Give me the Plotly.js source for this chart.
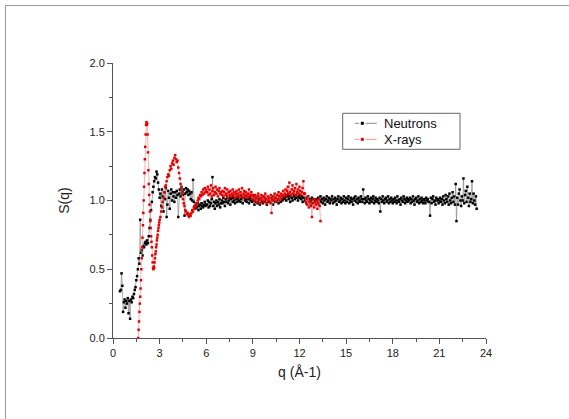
<!DOCTYPE html>
<html>
<head>
<meta charset="utf-8">
<script src="https://cdn.plot.ly/plotly-3.0.1.min.js"></script>
<style>
html,body{margin:0;padding:0;background:#fff;}
#wrap{position:relative;width:569px;height:419px;overflow:hidden;}
#chart{position:absolute;left:0;top:0;width:569px;height:419px;}
#frame{position:absolute;left:5px;top:5px;width:600px;height:500px;border-top:1px solid #999;border-left:1px solid #999;pointer-events:none;}
</style>
</head>
<body>
<div id="wrap"><div id="chart"></div><div id="frame"></div></div>
<script>
// ---- Neutrons ----
const neutronQLow = [0.45,0.50,0.55,0.60,0.65,0.70,0.75,0.80,0.85,0.90,0.95,1.00,1.05,1.10,1.15,1.20,1.25,1.30,1.35,1.40,1.45,1.50,1.55,1.60,1.65,1.70,1.75,1.80,1.85,1.90,1.95,2.00,2.05,2.10,2.15,2.20,2.25,2.30,2.35,2.40,2.45,2.50,2.55,2.60,2.65,2.70,2.75,2.80,2.85,2.90,2.95,3.00];
const neutronSLow = [0.34,0.35,0.47,0.38,0.19,0.26,0.28,0.22,0.27,0.25,0.29,0.18,0.27,0.14,0.28,0.26,0.30,0.29,0.32,0.35,0.37,0.42,0.45,0.50,0.58,0.54,0.86,0.62,0.64,0.60,0.67,0.66,0.69,0.70,0.68,0.71,0.69,0.74,0.80,0.86,0.93,0.99,1.06,1.10,1.14,1.17,1.16,1.21,1.19,1.13,1.08,1.02];
const neutronQMid = [3.05,3.10,3.15,3.20,3.25,3.30,3.35,3.40,3.45,3.50,3.55,3.60,3.65,3.70,3.75,3.80,3.85,3.90,3.95,4.00,4.05,4.10,4.15,4.20,4.25,4.30,4.35,4.40,4.45,4.50,4.55,4.60,4.65,4.70,4.75,4.80,4.85,4.90,4.95,5.00,5.05,5.10,5.15,5.20,5.25,5.30,5.35,5.40,5.45,5.50,5.55,5.60,5.65,5.70,5.75,5.80,5.85,5.90,5.95,6.00];
const neutronSMid = [1.05,0.96,1.08,1.03,0.92,1.06,1.01,1.09,0.88,0.97,1.07,1.02,0.94,1.05,1.08,1.00,1.06,1.03,0.99,1.06,1.02,1.07,1.04,0.88,1.05,1.08,1.03,1.10,1.06,1.04,1.08,0.89,1.05,1.09,1.06,1.08,1.04,1.07,1.05,1.01,1.06,1.00,1.15,0.99,0.96,0.94,0.97,0.95,0.98,0.93,0.96,0.97,0.94,0.98,0.96,0.95,0.97,0.99,0.96,0.97];
const neutronQHigh = [6.05,6.10,6.15,6.20,6.25,6.30,6.35,6.40,6.45,6.50,6.55,6.60,6.65,6.70,6.75,6.80,6.85,6.90,6.95,7.00,
7.05,7.10,7.15,7.20,7.25,7.30,7.35,7.40,7.45,7.50,7.55,7.60,7.65,7.70,7.75,7.80,7.85,7.90,7.95,8.00,
8.05,8.10,8.15,8.20,8.25,8.30,8.35,8.40,8.45,8.50,8.55,8.60,8.65,8.70,8.75,8.80,8.85,8.90,8.95,9.00,
9.05,9.10,9.15,9.20,9.25,9.30,9.35,9.40,9.45,9.50,9.55,9.60,9.65,9.70,9.75,9.80,9.85,9.90,9.95,10.00,
10.05,10.10,10.15,10.20,10.25,10.30,10.35,10.40,10.45,10.50,10.55,10.60,10.65,10.70,10.75,10.80,10.85,10.90,10.95,11.00,
11.05,11.10,11.15,11.20,11.25,11.30,11.35,11.40,11.45,11.50,11.55,11.60,11.65,11.70,11.75,11.80,11.85,11.90,11.95,12.00,
12.05,12.10,12.15,12.20,12.25,12.30,12.35,12.40,12.45,12.50,12.55,12.60,12.65,12.70,12.75,12.80,12.85,12.90,12.95,13.00,
13.05,13.10,13.15,13.20,13.25,13.30,13.35,13.40,13.45,13.50,13.55,13.60,13.65,13.70,13.75,13.80,13.85,13.90,13.95,14.00,
14.05,14.10,14.15,14.20,14.25,14.30,14.35,14.40,14.45,14.50,14.55,14.60,14.65,14.70,14.75,14.80,14.85,14.90,14.95,15.00,
15.05,15.10,15.15,15.20,15.25,15.30,15.35,15.40,15.45,15.50,15.55,15.60,15.65,15.70,15.75,15.80,15.85,15.90,15.95,16.00,
16.05,16.10,16.15,16.20,16.25,16.30,16.35,16.40,16.45,16.50,16.55,16.60,16.65,16.70,16.75,16.80,16.85,16.90,16.95,17.00,
17.05,17.10,17.15,17.20,17.25,17.30,17.35,17.40,17.45,17.50,17.55,17.60,17.65,17.70,17.75,17.80,17.85,17.90,17.95,18.00,
18.05,18.10,18.15,18.20,18.25,18.30,18.35,18.40,18.45,18.50,18.55,18.60,18.65,18.70,18.75,18.80,18.85,18.90,18.95,19.00,
19.05,19.10,19.15,19.20,19.25,19.30,19.35,19.40,19.45,19.50,19.55,19.60,19.65,19.70,19.75,19.80,19.85,19.90,19.95,20.00,
20.05,20.10,20.15,20.20,20.25,20.30,20.35,20.40,20.45,20.50,20.55,20.60,20.65,20.70,20.75,20.80,20.85,20.90,20.95,21.00,
21.05,21.10,21.15,21.20,21.25,21.30,21.35,21.40,21.45,21.50,21.55,21.60,21.65,21.70,21.75,21.80,21.85,21.90,21.95,22.00,
22.05,22.10,22.15,22.20,22.25,22.30,22.35,22.40,22.45,22.50,22.55,22.60,22.65,22.70,22.75,22.80,22.85,22.90,22.95,23.00,
23.05,23.10,23.15,23.20,23.25,23.30,23.35,23.40];
const neutronSHigh = [0.97,1.00,0.95,0.99,0.96,0.98,1.01,1.17,0.96,0.99,0.94,0.98,1.00,0.96,0.99,0.97,1.01,0.95,0.98,1.00,
0.98,1.02,0.99,0.96,1.01,0.99,1.03,0.98,1.00,1.02,0.97,1.01,1.03,0.99,1.02,1.00,0.98,1.03,1.01,0.99,
1.02,1.00,1.04,0.99,1.01,1.03,0.98,1.02,1.04,1.00,1.01,0.99,1.03,1.01,0.98,1.02,1.00,1.03,0.99,1.01,
1.00,0.97,1.02,0.99,1.01,0.98,1.03,1.00,0.97,1.01,0.99,1.02,0.98,1.00,1.03,0.99,1.01,0.97,1.00,1.02,
0.99,1.01,0.98,1.02,1.00,0.97,1.03,1.01,0.99,1.02,1.00,1.04,0.98,1.01,1.03,0.99,1.02,1.00,1.03,1.01,
1.02,1.04,1.00,1.03,1.05,1.01,1.03,0.99,1.04,1.02,1.00,1.05,1.03,1.01,1.04,1.02,1.06,1.00,1.03,1.02,
1.04,1.01,1.03,0.99,1.02,1.05,1.00,1.02,0.98,1.01,1.03,0.99,1.01,0.97,1.00,1.02,0.98,1.01,0.99,1.00,
0.98,1.01,0.99,1.02,0.97,1.00,1.03,0.99,1.01,0.98,1.02,1.00,0.97,1.01,1.03,0.99,1.00,1.02,0.98,1.01,
1.00,1.03,0.98,1.01,0.99,1.02,1.00,0.97,1.01,1.03,0.99,1.00,1.02,0.98,1.01,0.99,1.03,1.00,0.98,1.02,
0.99,1.01,1.03,0.98,1.00,1.02,0.99,1.01,0.97,1.02,1.00,1.03,0.99,1.01,0.98,1.02,1.00,0.99,1.03,1.01,
0.99,1.08,1.01,0.98,1.02,1.00,0.99,1.03,1.01,0.98,1.00,1.02,0.99,1.01,1.03,0.98,1.00,1.02,0.99,1.01,
1.00,0.98,1.02,0.92,1.01,0.99,1.03,1.00,0.98,1.01,1.02,0.99,1.00,1.03,0.98,1.01,0.99,1.02,1.00,0.98,
1.01,0.99,1.02,1.00,0.98,1.03,1.00,0.99,1.01,0.97,1.02,1.00,0.99,1.03,1.01,0.98,1.00,1.02,0.99,1.01,
1.00,1.02,0.98,1.01,0.99,1.03,1.00,0.97,1.01,1.02,0.99,1.00,1.03,0.98,1.01,0.99,1.02,1.00,0.98,1.01,
1.00,0.98,1.02,1.00,1.01,0.99,0.99,0.89,1.02,0.98,1.01,1.03,0.99,1.00,0.97,1.02,1.00,1.01,0.98,1.00,
1.02,0.99,1.01,0.97,1.03,1.00,0.98,1.04,1.01,0.99,1.03,0.97,1.05,1.00,0.98,1.02,1.06,0.99,1.03,0.97,
1.12,0.85,1.02,0.97,1.05,1.08,1.00,0.96,1.03,1.00,1.16,0.98,1.04,1.07,0.99,1.10,1.02,0.96,1.05,0.99,
1.01,1.14,0.98,1.05,1.00,0.97,1.03,0.94];

// ---- X-rays ----
const xrayQLow = [1.625,1.650,1.675,1.700,1.725,1.750,1.775,1.800,1.825,1.850,1.875,1.900,1.925,1.950,1.975,2.000,2.025,2.050,2.075,2.100,2.125,2.150,2.175,2.200,2.225,2.250,2.275,2.300,2.325,2.350,2.375,2.400,2.425,2.450,2.475,2.500,2.525,2.550,2.575,2.600,2.625,2.650,2.675,2.700,2.725,2.750,2.775,2.800,2.825,2.850,2.875,2.900,2.925,2.950,2.975,3.000];
const xraySLow = [0.00,0.06,0.12,0.19,0.25,0.30,0.36,0.42,0.50,0.58,0.66,0.73,0.82,0.91,1.00,1.10,1.20,1.30,1.39,1.48,1.55,1.57,1.55,1.56,1.48,1.35,1.22,1.12,1.04,0.97,0.92,0.85,0.80,0.74,0.70,0.66,0.60,0.55,0.51,0.50,0.52,0.51,0.55,0.58,0.61,0.63,0.66,0.68,0.71,0.73,0.75,0.78,0.80,0.82,0.84,0.86];
const xrayQMid = [3.05,3.10,3.15,3.20,3.25,3.30,3.35,3.40,3.45,3.50,3.55,3.60,3.65,3.70,3.75,3.80,3.85,3.90,3.95,4.00,4.05,4.10,4.15,4.20,4.25,4.30,4.35,4.40,4.45,4.50,4.55,4.60,4.65,4.70,4.75,4.80,4.85,4.90,4.95,5.00,5.05,5.10,5.15,5.20,5.25,5.30,5.35,5.40,5.45,5.50,5.55,5.60,5.65,5.70,5.75,5.80,5.85,5.90,5.95,6.00];
const xraySMid = [0.88,0.92,0.95,0.99,1.02,1.06,1.10,1.11,1.14,1.17,1.19,1.18,1.22,1.25,1.23,1.27,1.29,1.26,1.31,1.33,1.30,1.28,1.29,1.24,1.20,1.16,1.12,1.08,1.05,1.01,0.98,0.96,0.93,0.92,0.90,0.91,0.89,0.88,0.90,0.89,0.91,0.93,0.92,0.95,0.94,0.96,0.98,0.97,1.00,1.02,1.01,1.04,1.03,1.06,1.04,1.08,1.05,1.09,1.06,1.08];
const xrayQHigh = [6.05,6.10,6.15,6.20,6.25,6.30,6.35,6.40,6.45,6.50,6.55,6.60,6.65,6.70,6.75,6.80,6.85,6.90,6.95,7.00,
7.05,7.10,7.15,7.20,7.25,7.30,7.35,7.40,7.45,7.50,7.55,7.60,7.65,7.70,7.75,7.80,7.85,7.90,7.95,8.00,
8.05,8.10,8.15,8.20,8.25,8.30,8.35,8.40,8.45,8.50,8.55,8.60,8.65,8.70,8.75,8.80,8.85,8.90,8.95,9.00,
9.05,9.10,9.15,9.20,9.25,9.30,9.35,9.40,9.45,9.50,9.55,9.60,9.65,9.70,9.75,9.80,9.85,9.90,9.95,10.00,
10.05,10.10,10.15,10.20,10.25,10.30,10.35,10.40,10.45,10.50,10.55,10.60,10.65,10.70,10.75,10.80,10.85,10.90,10.95,11.00,
11.05,11.10,11.15,11.20,11.25,11.30,11.35,11.40,11.45,11.50,11.55,11.60,11.65,11.70,11.75,11.80,11.85,11.90,11.95,12.00,
12.05,12.10,12.15,12.20,12.25,12.30,12.35,12.40,12.45,12.50,12.55,12.60,12.65,12.70,12.75,12.80,12.85,12.90,12.95,13.00,
13.05,13.10,13.15,13.20,13.25,13.30,13.35];
const xraySHigh = [1.06,1.10,1.04,1.08,1.05,1.11,1.03,1.07,1.09,1.04,1.06,1.10,1.05,1.08,1.03,1.07,1.09,1.05,1.06,1.04,
1.07,1.03,1.06,1.09,1.04,1.05,1.08,1.02,1.06,1.04,1.07,1.03,1.05,1.08,1.04,1.06,1.02,1.05,1.07,1.03,
1.05,1.08,1.03,1.06,1.04,1.09,1.02,1.05,1.07,1.03,1.06,1.04,1.02,1.05,1.08,1.03,1.04,1.06,1.01,1.04,
1.03,1.00,1.04,1.02,0.99,1.03,1.05,1.01,0.98,1.02,1.04,1.00,1.03,0.99,1.02,1.05,1.01,0.98,1.03,1.00,
1.02,0.99,1.04,0.91,1.01,1.03,1.00,1.05,1.02,0.99,1.04,1.01,1.06,1.03,1.00,1.05,1.02,1.04,1.07,1.03,
1.05,1.08,1.04,1.07,1.10,1.05,1.13,1.06,1.04,1.08,1.11,1.05,1.07,1.09,1.04,1.12,1.06,1.08,1.05,1.10,
1.07,1.04,1.06,1.09,1.14,1.05,1.05,0.99,1.01,0.97,1.03,0.95,0.99,1.00,0.96,0.88,0.98,1.01,0.95,0.99,
0.97,1.00,0.94,0.98,1.01,0.96,0.85];

const neutronQ = neutronQLow.concat(neutronQMid, neutronQHigh);
const neutronS = neutronSLow.concat(neutronSMid, neutronSHigh);
const xrayQ = xrayQLow.concat(xrayQMid, xrayQHigh);
const xrayS = xraySLow.concat(xraySMid, xraySHigh);

const seriesNames = ['Neutrons', 'X-rays'];
const seriesLineColors = ['#8a8a8a', '#f29090'];
const seriesMarkerColors = ['#000000', '#e60000'];

const FONT = 'Liberation Sans, Arial, sans-serif';

const traces = [
  {
    x: neutronQ, y: neutronS, name: seriesNames[0], type: 'scatter', mode: 'lines+markers',
    line: {color: seriesLineColors[0], width: 0.7},
    marker: {symbol: 'square', size: 2.5, color: seriesMarkerColors[0]}
  },
  {
    x: xrayQ, y: xrayS, name: seriesNames[1], type: 'scatter', mode: 'lines+markers',
    line: {color: seriesLineColors[1], width: 0.7},
    marker: {symbol: 'square', size: 2.5, color: seriesMarkerColors[1]}
  }
];

// Origin-style legend box (paper coordinates), built from the series names/colours
const legendBox = {x0: 0.6158, x1: 0.9303, y0: 0.6862, y1: 0.8171};
const legendRows = [0.7807, 0.7225];
const shapes = [{
  type: 'rect', xref: 'paper', yref: 'paper',
  x0: legendBox.x0, x1: legendBox.x1, y0: legendBox.y0, y1: legendBox.y1,
  line: {color: '#666', width: 1}, fillcolor: '#ffffff', layer: 'above'
}];
const annotations = [];
seriesNames.forEach(function (name, i) {
  const yr = legendRows[i];
  shapes.push({type: 'line', xref: 'paper', yref: 'paper', x0: 0.6480, x1: 0.6600, y0: yr, y1: yr,
    line: {color: seriesLineColors[i], width: 1}, layer: 'above'});
  shapes.push({type: 'line', xref: 'paper', yref: 'paper', x0: 0.6770, x1: 0.7070, y0: yr, y1: yr,
    line: {color: seriesLineColors[i], width: 1}, layer: 'above'});
  shapes.push({type: 'rect', xref: 'paper', yref: 'paper', xsizemode: 'pixel', ysizemode: 'pixel',
    xanchor: 0.6684, yanchor: yr, x0: -1.5, x1: 1.5, y0: -1.5, y1: 1.5,
    line: {width: 0}, fillcolor: seriesMarkerColors[i], layer: 'above'});
  annotations.push({xref: 'paper', yref: 'paper', x: 0.7204, y: yr, xanchor: 'left', yanchor: 'middle',
    text: name, showarrow: false, font: {family: FONT, size: 13, color: '#111'}});
});

const axisCommon = {
  showgrid: false, zeroline: false, showline: true, linecolor: '#555', linewidth: 1,
  ticks: 'outside', ticklen: 5, tickwidth: 1, tickcolor: '#555',
  tickfont: {family: FONT, size: 11, color: '#222'}
};

const layout = {
  width: 569, height: 419,
  margin: {l: 113, r: 83, t: 63, b: 81},
  paper_bgcolor: '#ffffff', plot_bgcolor: '#ffffff',
  font: {family: FONT, color: '#222'},
  showlegend: false,
  shapes: shapes,
  annotations: annotations,
  xaxis: Object.assign({}, axisCommon, {
    range: [0, 24], tick0: 0, dtick: 3,
    minor: {dtick: 1.5, ticks: 'outside', ticklen: 3, tickcolor: '#555', showgrid: false},
    title: {text: 'q (Å-1)', font: {family: FONT, size: 14, color: '#222'}, standoff: 8}
  }),
  yaxis: Object.assign({}, axisCommon, {
    range: [0, 2], tick0: 0, dtick: 0.5, tickformat: '.1f',
    minor: {dtick: 0.25, ticks: 'outside', ticklen: 3, tickcolor: '#555', showgrid: false},
    title: {text: 'S(q)', font: {family: FONT, size: 14, color: '#222'}, standoff: 16}
  })
};

Plotly.newPlot('chart', traces, layout, {displayModeBar: false, staticPlot: true});
</script>
</body>
</html>
